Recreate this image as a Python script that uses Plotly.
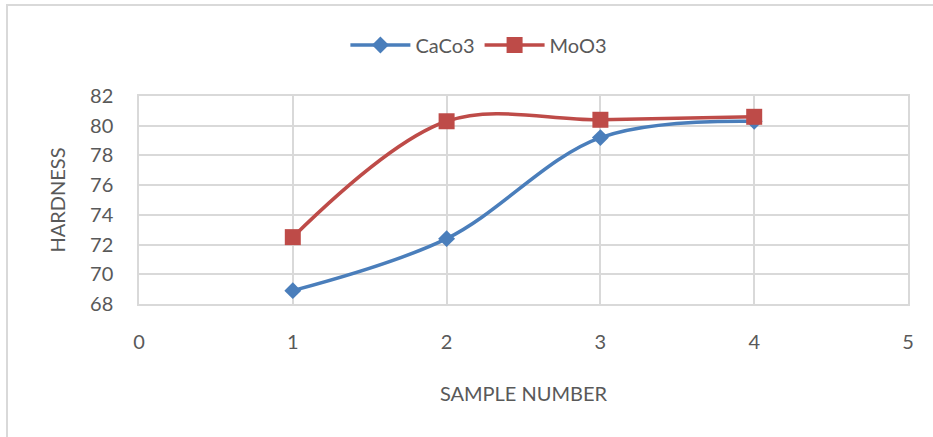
import plotly.graph_objects as go

# Hardness measured for each sample, two additives
sample_numbers = [1, 2, 3, 4]
caco3_hardness = [68.9, 72.4, 79.2, 80.3]
moo3_hardness = [72.5, 80.3, 80.4, 80.6]

x_ticks = [0, 1, 2, 3, 4, 5]
y_ticks = [68, 70, 72, 74, 76, 78, 80, 82]

FONT = "Lato, Open Sans, sans-serif"
TEXT_COLOR = "#595959"
GRID_COLOR = "#d9d9d9"
FS = 20

W, H = 933, 437
M = dict(l=139, r=25, t=96, b=133)

fig = go.Figure()
fig.add_trace(go.Scatter(
    x=sample_numbers, y=caco3_hardness, name="CaCo3",
    mode="lines+markers",
    line=dict(color="#4a7ebb", width=3.5, shape="spline", smoothing=1),
    marker=dict(symbol="diamond", size=13, color="#4a7ebb"),
))
fig.add_trace(go.Scatter(
    x=sample_numbers, y=moo3_hardness, name="MoO3",
    mode="lines+markers",
    line=dict(color="#be4b48", width=3.5, shape="spline", smoothing=1),
    marker=dict(symbol="square", size=16, color="#be4b48"),
))

pw = W - M["l"] - M["r"]
ph = H - M["t"] - M["b"]

# Chart-area frame (left and top edges fall inside the page)
fx0 = (7 - M["l"]) / pw
fy1 = 1 + (M["t"] - 5) / ph
fig.add_shape(type="rect", xref="paper", yref="paper",
              x0=fx0, x1=1 + (M["r"] + 10) / pw,
              y0=-(M["b"] + 10) / ph, y1=fy1,
              line=dict(color=GRID_COLOR, width=2), layer="below")

fig.update_layout(
    width=W, height=H, margin=M,
    paper_bgcolor="white", plot_bgcolor="white",
    font=dict(family=FONT, color=TEXT_COLOR, size=FS),
    showlegend=True,
    legend=dict(orientation="h", x=0.442, xanchor="center",
                y=1 + (M["t"] - 45) / ph, yanchor="middle",
                font=dict(size=FS, color=TEXT_COLOR),
                itemwidth=60, tracegroupgap=0),
    xaxis=dict(range=[0, 5], tickvals=x_ticks, showgrid=True,
               gridcolor=GRID_COLOR, gridwidth=1.5,
               showline=True, linecolor=GRID_COLOR, linewidth=1.5, mirror=True,
               zeroline=False, ticks="", ticklabelstandoff=19,
               tickfont=dict(size=FS, color=TEXT_COLOR),
               title=dict(text="SAMPLE NUMBER", standoff=35,
                          font=dict(size=FS, color=TEXT_COLOR))),
    yaxis=dict(range=[68, 82], tickvals=y_ticks, showgrid=True,
               gridcolor=GRID_COLOR, gridwidth=1.5,
               showline=True, linecolor=GRID_COLOR, linewidth=1.5, mirror=True,
               zeroline=False, ticks="", ticklabelstandoff=20,
               tickfont=dict(size=FS, color=TEXT_COLOR),
               title=dict(text="HARDNESS", standoff=19,
                          font=dict(size=FS, color=TEXT_COLOR))),
)

fig.write_html("out.html")
